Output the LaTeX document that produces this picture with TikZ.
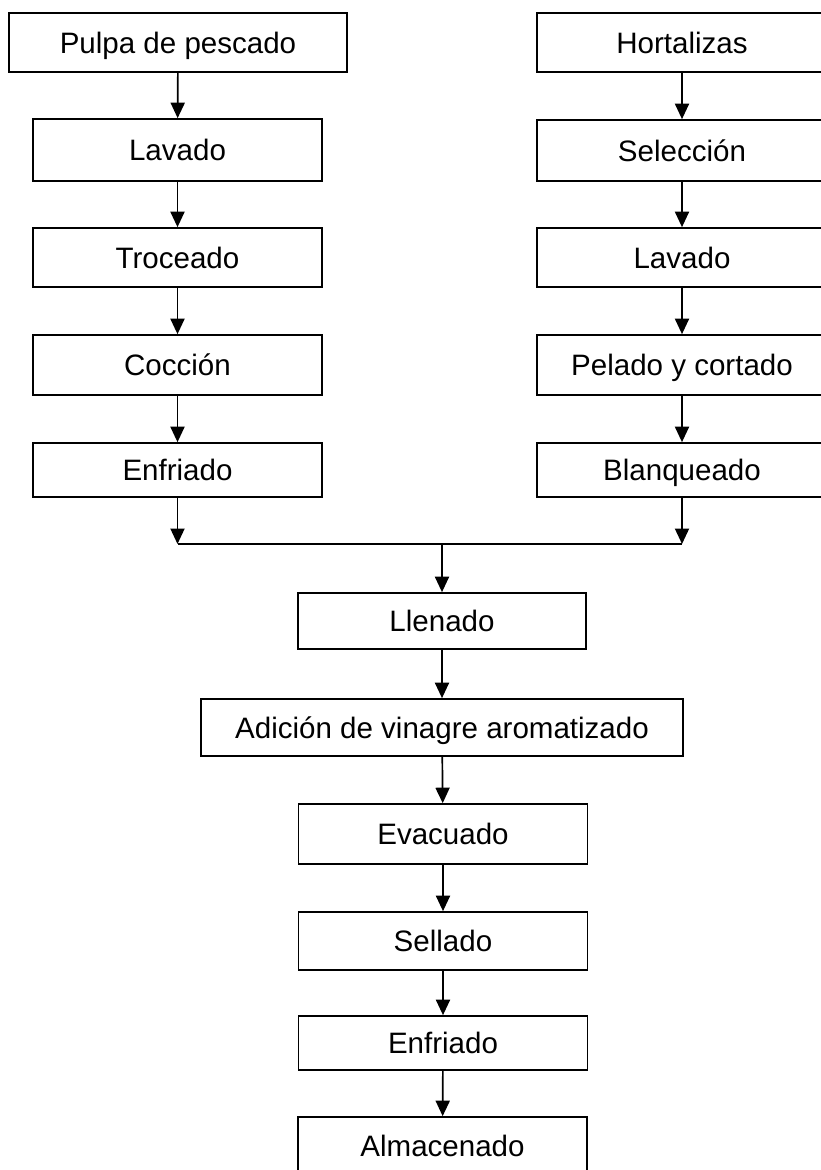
\documentclass[tikz,border=0pt]{standalone}
\usepackage{fontspec}
\setmainfont{Liberation Sans}
\usetikzlibrary{arrows.meta}

\tikzset{
  paso/.style={draw, line width=1.2pt, inner sep=0pt, minimum width=7.225cm, minimum height=1.475cm,
    text height=16.8pt, text depth=1.76pt, font=\fontsize{21}{25}\selectfont},
  flecha/.style={line width=1.2pt, -{Triangle[width=10pt,length=11pt]}}
}

\begin{document}
\begin{tikzpicture}[x=0.025cm, y=-0.025cm]
  \clip (0,0) rectangle (821,1170);

  \node (p1) at (178.0,  42.5) [paso, minimum width=8.45cm] {Pulpa de pescado};
  \node (p2) at (177.5, 150.0) [paso, minimum height=1.55cm] {Lavado};
  \node (p3) at (177.5, 257.5) [paso] {Troceado};
  \node (p4) at (177.5, 365.0) [paso, minimum height=1.5cm] {Cocción};
  \node (p5) at (177.5, 470.0) [paso, minimum height=1.35cm] {Enfriado};

  \node (h1) at (682.0,  42.5) [paso, minimum width=7.25cm] {Hortalizas};
  \node (h2) at (682.0, 150.5) [paso, minimum width=7.25cm, minimum height=1.525cm] {Selección};
  \node (h3) at (682.0, 257.5) [paso, minimum width=7.25cm] {Lavado};
  \node (h4) at (682.0, 365.0) [paso, minimum width=7.25cm, minimum height=1.5cm] {Pelado y cortado};
  \node (h5) at (682.0, 470.0) [paso, minimum width=7.25cm, minimum height=1.35cm] {Blanqueado};

  \coordinate (jl) at (177.5, 544);
  \coordinate (jr) at (682.0, 544);
  \coordinate (j)  at (442.0, 544);

  \node (m1) at (442.0,  621.0) [paso, minimum width=7.2cm, minimum height=1.4cm] {Llenado};
  \node (m2) at (442.0,  727.5) [paso, minimum width=12.05cm, minimum height=1.425cm] {Adición de vinagre aromatizado};
  \node (m3) at (443.0,  834.0) [paso, minimum height=1.5cm] {Evacuado};
  \node (m4) at (443.0,  941.0) [paso, minimum height=1.45cm] {Sellado};
  \node (m5) at (443.0, 1043.0) [paso, minimum height=1.35cm] {Enfriado};
  \node (m6) at (442.5, 1145.5) [paso, minimum height=1.425cm] {Almacenado};

  \draw [flecha] (p1) -- (p2);
  \draw [flecha] (p2) -- (p3);
  \draw [flecha] (p3) -- (p4);
  \draw [flecha] (p4) -- (p5);
  \draw [flecha] (p5) -- (jl);

  \draw [flecha] (h1) -- (h2);
  \draw [flecha] (h2) -- (h3);
  \draw [flecha] (h3) -- (h4);
  \draw [flecha] (h4) -- (h5);
  \draw [flecha] (h5) -- (jr);

  \draw [line width=1.2pt] (jl) -- (jr);
  \draw [flecha] (j) -- (m1);
  \draw [flecha] (m1) -- (m2);
  \draw [flecha] (m2) -- (m3);
  \draw [flecha] (m3) -- (m4);
  \draw [flecha] (m4) -- (m5);
  \draw [flecha] (m5) -- (m6);
\end{tikzpicture}
\end{document}
